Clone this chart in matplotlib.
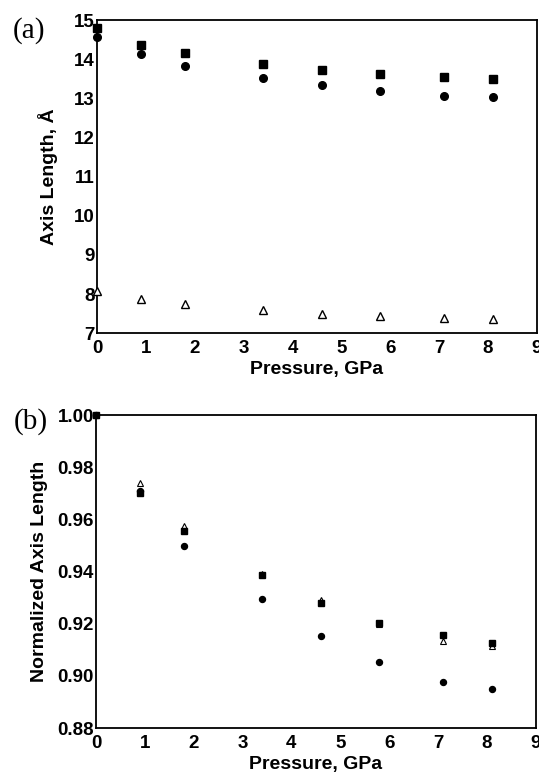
import matplotlib
matplotlib.use("Agg")
import matplotlib.pyplot as plt

plt.rcParams["font.family"] = ["Liberation Sans", "DejaVu Sans"]
plt.rcParams["font.weight"] = "bold"

pressure = [0, 0.9, 1.8, 3.4, 4.6, 5.8, 7.1, 8.1]

# (a) absolute axis lengths, angstrom
a_square = [14.80, 14.36, 14.15, 13.89, 13.72, 13.62, 13.54, 13.50]
a_circle = [14.56, 14.13, 13.83, 13.53, 13.34, 13.18, 13.06, 13.03]
a_triangle = [8.07, 7.88, 7.74, 7.58, 7.49, 7.44, 7.39, 7.36]

# (b) normalized axis lengths
b_square = [1.000, 0.970, 0.9555, 0.9388, 0.928, 0.9205, 0.9158, 0.9127]
b_circle = [1.000, 0.971, 0.9497, 0.9297, 0.9155, 0.9053, 0.8977, 0.8949]
b_triangle = [1.000, 0.9741, 0.9574, 0.939, 0.929, 0.920, 0.9135, 0.9115]

x_ticks = list(range(0, 10))
a_yticks = list(range(7, 16))
b_yticks = [0.88, 0.90, 0.92, 0.94, 0.96, 0.98, 1.00]

fig = plt.figure(figsize=(5.39, 7.73), dpi=100)
ax1 = fig.add_axes([0.180, 0.569, 0.816, 0.405])
ax2 = fig.add_axes([0.178, 0.058, 0.816, 0.405])


def style_axes(ax):
    for s in ax.spines.values():
        s.set_linewidth(1.3)
        s.set_color("black")
    ax.tick_params(length=0, labelsize=13.5)
    ax.tick_params(axis="y", pad=1.5)
    ax.tick_params(axis="x", pad=5)
    for lab in ax.get_xticklabels() + ax.get_yticklabels():
        lab.set_fontweight("bold")
    ax.set_xlabel("Pressure, GPa", fontsize=14, fontweight="bold", labelpad=3)


# panel (a)
ax1.plot(pressure, a_square, "s", color="black", ms=5.3, clip_on=False, zorder=3)
ax1.plot(pressure, a_circle, "o", color="black", ms=5.5, clip_on=False, zorder=3)
ax1.plot(pressure, a_triangle, "^", mfc="white", mec="black", mew=1.0, ms=5.5,
         clip_on=False, zorder=3)
ax1.set_xlim(0, 9)
ax1.set_ylim(7, 15)
ax1.set_xticks(x_ticks)
ax1.set_yticks(a_yticks)
ax1.set_ylabel("Axis Length, Å", fontsize=14, fontweight="bold", labelpad=12)
style_axes(ax1)
fig.text(0.053, 0.960, "(a)", family=["Liberation Serif", "DejaVu Serif"],
         fontsize=21, fontweight="normal", ha="center", va="center")

# panel (b)
ax2.plot(pressure, b_circle, "o", color="black", ms=4.3, clip_on=False, zorder=3)
ax2.plot(pressure, b_triangle, "^", mfc="white", mec="black", mew=0.8, ms=4.5,
         clip_on=False, zorder=3)
ax2.plot(pressure, b_square, "s", color="black", ms=4.2, clip_on=False, zorder=4)
ax2.set_xlim(0, 9)
ax2.set_ylim(0.88, 1.00)
ax2.set_xticks(x_ticks)
ax2.set_yticks(b_yticks)
ax2.set_yticklabels(["%.2f" % v for v in b_yticks])
ax2.set_ylabel("Normalized Axis Length", fontsize=14, fontweight="bold", labelpad=7)
style_axes(ax2)
fig.text(0.057, 0.455, "(b)", family=["Liberation Serif", "DejaVu Serif"],
         fontsize=21, fontweight="normal", ha="center", va="center")

fig.savefig("out.png", dpi=100)
